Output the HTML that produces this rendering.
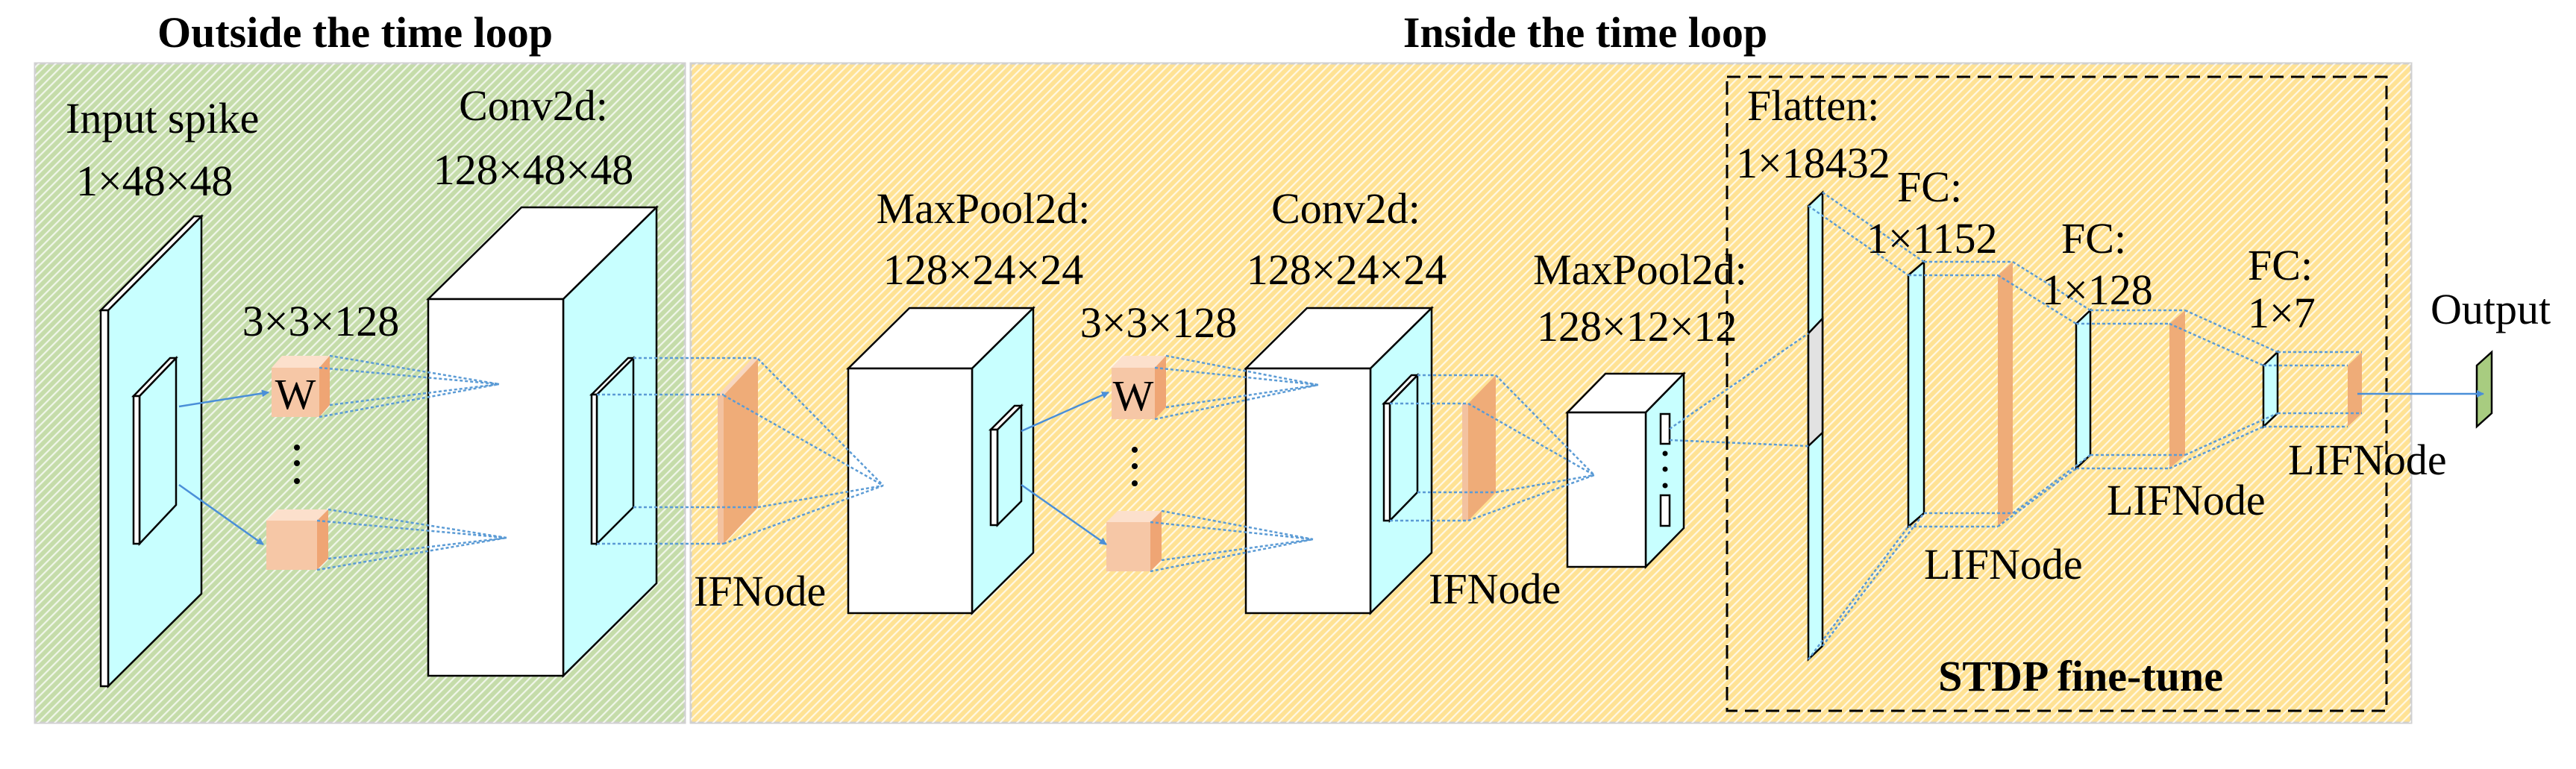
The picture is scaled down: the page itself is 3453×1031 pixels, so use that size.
<!DOCTYPE html>
<html><head><meta charset="utf-8"><style>
html,body{margin:0;padding:0;background:#fff}
svg{display:block}
svg text{font-family:"Liberation Serif","DejaVu Serif",serif;font-size:58px;fill:#000}
.b{font-weight:bold}
</style></head><body>
<svg width="3453" height="1031" viewBox="0 0 3453 1031" xmlns="http://www.w3.org/2000/svg" font-family="Liberation Serif, DejaVu Serif, serif">
<defs>
<pattern id="h" width="8" height="8" patternUnits="userSpaceOnUse" patternTransform="rotate(45)">
<rect x="0" y="0" width="2.2" height="8" fill="#fff" fill-opacity="0.75"/>
</pattern>
<marker id="ar" markerWidth="10" markerHeight="10" refX="9" refY="5" orient="auto" markerUnits="userSpaceOnUse" viewBox="0 0 10 10">
<path d="M0,0 L10,5 L0,10 z" fill="#4A8FD8"/>
</marker>
</defs>
<rect x="47" y="85" width="871" height="884" fill="#C5DCAA" stroke="#d0d0d0" stroke-width="3"/>
<rect x="47" y="85" width="871" height="884" fill="url(#h)"/>
<rect x="926" y="85" width="2306" height="884" fill="#FFE294" stroke="#d0d0d0" stroke-width="3"/>
<rect x="926" y="85" width="2306" height="884" fill="url(#h)"/>
<text class="b" x="476" y="63" text-anchor="middle" font-size="52">Outside the time loop</text>
<text class="b" x="2125" y="63" text-anchor="middle" font-size="52">Inside the time loop</text>

<g stroke="#000" stroke-width="2.5" stroke-linejoin="miter">
<polygon points="145,416 270,290 270,796 145,920" fill="#C8FFFF"/>
<polygon points="135,416 260,290 270,290 145,416" fill="#fff"/>
<rect x="135" y="416" width="10" height="504" fill="#fff"/>
<polygon points="187,531 236,480 236,677 187,729" fill="#C8FFFF"/>
<polygon points="179,531 228,480 236,480 187,531" fill="#fff"/>
<rect x="179" y="531" width="8" height="198" fill="#fff"/>
</g>
<g stroke="none">
<polygon points="364,493 378,477 442,477 428,493" fill="#FCE0CC"/>
<polygon points="428,493 442,477 442,543 428,559" fill="#EFA574"/>
<rect x="364" y="493" width="64" height="66" fill="#F6C7A6"/>
<polygon points="357,698 372,683 440,683 425,698" fill="#FCE0CC"/>
<polygon points="425,698 440,683 440,749 425,764" fill="#EFA574"/>
<rect x="357" y="698" width="68" height="66" fill="#F6C7A6"/>
<polygon points="1490,493 1505,477 1563,477 1548,493" fill="#FCE0CC"/>
<polygon points="1548,493 1563,477 1563,546 1548,562" fill="#EFA574"/>
<rect x="1490" y="493" width="58" height="69" fill="#F6C7A6"/>
<polygon points="1483,700 1498,685 1557,685 1542,700" fill="#FCE0CC"/>
<polygon points="1542,700 1557,685 1557,751 1542,766" fill="#EFA574"/>
<rect x="1483" y="700" width="59" height="66" fill="#F6C7A6"/>
</g>
<text x="396" y="548" text-anchor="middle" font-size="60">W</text>
<text x="1519" y="550" text-anchor="middle" font-size="56">W</text>
<g fill="#000">
<circle cx="398" cy="600" r="4"/><circle cx="398" cy="621" r="4"/><circle cx="398" cy="645" r="4"/>
<circle cx="1521" cy="603" r="4"/><circle cx="1521" cy="625" r="4"/><circle cx="1521" cy="648" r="4"/>
</g>

<g stroke="#000" stroke-width="2.5">
<polygon points="574,401 699,278 880,278 755,401" fill="#fff"/>
<polygon points="755,401 880,278 880,782 755,906" fill="#C8FFFF"/>
<rect x="574" y="401" width="181" height="505" fill="#fff"/>
<polygon points="800,529 849,480 849,680 800,729" fill="#C8FFFF"/>
<polygon points="793,529 842,480 849,480 800,529" fill="#fff"/>
<rect x="793" y="529" width="7" height="200" fill="#fff"/>

<polygon points="1137,494 1219,413 1385,413 1303,494" fill="#fff"/>
<polygon points="1303,494 1385,413 1385,741 1303,822" fill="#C8FFFF"/>
<rect x="1137" y="494" width="166" height="328" fill="#fff"/>
<polygon points="1337,576 1369,544 1369,672 1337,704" fill="#C8FFFF"/>
<polygon points="1328,576 1360,544 1369,544 1337,576" fill="#fff"/>
<rect x="1328" y="576" width="9" height="128" fill="#fff"/>

<polygon points="1670,494 1752,413 1919,413 1837,494" fill="#fff"/>
<polygon points="1837,494 1919,413 1919,741 1837,822" fill="#C8FFFF"/>
<rect x="1670" y="494" width="167" height="328" fill="#fff"/>
<polygon points="1863,541 1900,503 1900,660 1863,698" fill="#C8FFFF"/>
<polygon points="1855,541 1892,503 1900,503 1863,541" fill="#fff"/>
<rect x="1855" y="541" width="8" height="157" fill="#fff"/>

<polygon points="2101,553 2152,501 2257,501 2206,553" fill="#fff"/>
<polygon points="2206,553 2257,501 2257,708 2206,760" fill="#C8FFFF"/>
<rect x="2101" y="553" width="105" height="207" fill="#fff"/>
<rect x="2226" y="555" width="12" height="40" fill="#fff"/>
<rect x="2226" y="664" width="12" height="41" fill="#fff"/>
</g>
<g fill="#000"><circle cx="2232" cy="608" r="3.5"/><circle cx="2232" cy="629" r="3.5"/><circle cx="2232" cy="651" r="3.5"/></g>

<g stroke="none">
<polygon points="970,530 1016,481 1016,680 970,729" fill="#EFAC78"/>
<polygon points="962,530 1008,481 1016,481 970,530" fill="#F8D6C0"/>
<rect x="962" y="530" width="8" height="199" fill="#F3C2A0"/>
<polygon points="1968,541 2005,503 2005,660 1968,698" fill="#EFAC78"/>
<rect x="1960" y="541" width="8" height="157" fill="#F3C2A0"/>
</g>

<g stroke="#000" stroke-width="2.5">
<polygon points="2424,276 2443,258 2443,866 2424,884" fill="#C8FFFF"/>
<polygon points="2424,447 2443,427 2443,580 2424,598" fill="#E2E2E2"/>
<polygon points="2558,369 2579,351 2579,688 2558,706" fill="#C8FFFF"/>
<polygon points="2783,434 2802,416 2802,610 2783,628" fill="#C8FFFF"/>
<polygon points="3034,490 3053,472 3053,554 3034,572" fill="#C8FFFF"/>
<polygon points="3320,490 3340,472 3340,554 3320,572" fill="#A8CC80"/>
</g>
<g stroke="none" fill="#EFAC78">
<polygon points="2678,369 2698,351 2698,688 2678,706"/>
<polygon points="2908,434 2929,416 2929,610 2908,628"/>
<polygon points="3147,490 3166,472 3166,554 3147,572"/>
</g>

<g stroke="#4A8FD8" stroke-width="2.5" fill="none" marker-end="url(#ar)">
<line x1="240" y1="545" x2="360" y2="526"/>
<line x1="240" y1="650" x2="353" y2="730"/>
<line x1="1369" y1="578" x2="1486" y2="526"/>
<line x1="1369" y1="650" x2="1483" y2="730"/>
<line x1="3160" y1="528" x2="3329" y2="528"/>
</g>

<g stroke="#5B9BD5" stroke-width="2.5" fill="none" stroke-dasharray="4,3">
<path d="M428,493 L669,515 M442,477 L669,515 M428,559 L669,515 M442,543 L669,515"/>
<path d="M425,698 L679,721 M440,683 L679,721 M425,764 L679,721 M440,749 L679,721"/>
<path d="M849,480 H1016 M800,529 H970 M849,680 H1016 M800,729 H970"/>
<path d="M1016,481 L1184,651 M970,530 L1184,651 M1016,680 L1184,651 M970,729 L1184,651"/>
<path d="M1548,493 L1767,516 M1563,477 L1767,516 M1548,562 L1767,516 M1563,546 L1767,516"/>
<path d="M1542,700 L1760,723 M1557,685 L1760,723 M1542,766 L1760,723 M1557,751 L1760,723"/>
<path d="M1900,503 H2005 M1863,541 H1968 M1900,660 H2005 M1863,698 H1968"/>
<path d="M2005,503 L2137,637 M1968,541 L2137,637 M2005,660 L2137,637 M1968,698 L2137,637"/>
<path d="M2238,575 L2424,447 M2238,590 L2424,598"/>
<path d="M2443,258 L2579,351 M2424,276 L2558,369 M2443,866 L2579,688 M2424,884 L2558,706"/>
<path d="M2579,351 H2698 M2558,369 H2678 M2579,688 H2698 M2558,706 H2678"/>
<path d="M2698,351 L2802,416 M2678,369 L2783,434 M2698,688 L2802,610 M2678,706 L2783,628"/>
<path d="M2802,416 H2929 M2783,434 H2908 M2802,610 H2929 M2783,628 H2908"/>
<path d="M2929,416 L3053,472 M2908,434 L3034,490 M2929,610 L3053,554 M2908,628 L3034,572"/>
<path d="M3053,472 H3166 M3034,490 H3147 M3053,554 H3166 M3034,572 H3147"/>
</g>

<rect x="2315" y="103" width="884" height="850" fill="none" stroke="#000" stroke-width="3" stroke-dasharray="18,10"/>

<text x="88" y="178">Input spike</text>
<text x="102" y="262">1×48×48</text>
<text x="715" y="161" text-anchor="middle">Conv2d:</text>
<text x="715" y="247" text-anchor="middle">128×48×48</text>
<text x="430" y="450" text-anchor="middle">3×3×128</text>
<text x="930" y="812">IFNode</text>
<text x="1318" y="299" text-anchor="middle">MaxPool2d:</text>
<text x="1318" y="381" text-anchor="middle">128×24×24</text>
<text x="1553" y="452" text-anchor="middle">3×3×128</text>
<text x="1804" y="299" text-anchor="middle">Conv2d:</text>
<text x="1805" y="381" text-anchor="middle">128×24×24</text>
<text x="1915" y="809">IFNode</text>
<text x="2055" y="381">MaxPool2d:</text>
<text x="2060" y="457">128×12×12</text>
<text x="2342" y="161">Flatten:</text>
<text x="2327" y="238">1×18432</text>
<text x="2543" y="270">FC:</text>
<text x="2502" y="339">1×1152</text>
<text x="2763" y="339">FC:</text>
<text x="2737" y="408">1×128</text>
<text x="3013" y="375">FC:</text>
<text x="3013" y="439">1×7</text>
<text x="2579" y="776">LIFNode</text>
<text x="2824" y="690">LIFNode</text>
<text x="3067" y="636">LIFNode</text>
<text x="3258" y="434">Output</text>
<text class="b" x="2789" y="926" text-anchor="middle" font-size="52">STDP fine-tune</text>
</svg>
</body></html>
